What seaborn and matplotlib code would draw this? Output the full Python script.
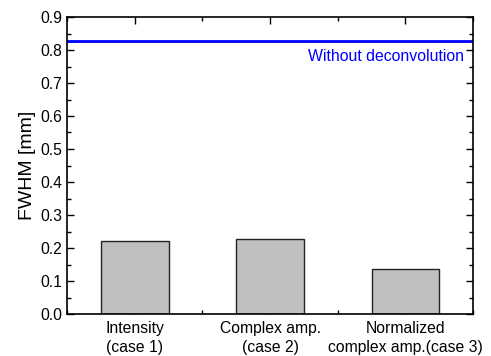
import matplotlib
matplotlib.use("Agg")
import matplotlib.pyplot as plt
import seaborn as sns
import pandas as pd
from matplotlib.ticker import MultipleLocator

# --- DATA ---
categories = ["Intensity\n(case 1)", "Complex amp.\n(case 2)", "Normalized\ncomplex amp.(case 3)"]
fwhm = [0.221, 0.227, 0.136]
ref_fwhm = 0.826
ref_label = "Without deconvolution"

df = pd.DataFrame({"method": categories, "fwhm": fwhm})

sns.set_theme(style="ticks")
plt.rcParams['font.family'] = ['Liberation Sans', 'DejaVu Sans']
plt.rcParams['text.color'] = 'black'
plt.rcParams['axes.labelcolor'] = 'black'

fig = plt.figure(figsize=(4.91, 3.56), dpi=100)
ax = fig.add_axes([67 / 491, 1 - 314 / 356, (473 - 67) / 491, (314 - 17) / 356])

sns.barplot(data=df, x="method", y="fwhm", ax=ax, color="#c0c0c0",
            edgecolor="#222222", linewidth=1.0, width=0.5, saturation=1)
ax.axhline(ref_fwhm, color="#0000ff", lw=2)
ax.text(2.43, ref_fwhm - 0.022, ref_label, color="#0000ff", ha="right", va="top", fontsize=11.4)

ax.set_xlim(-0.5, 2.5)
ax.set_ylim(0, 0.9)
ax.yaxis.set_major_locator(MultipleLocator(0.1))
ax.yaxis.set_minor_locator(MultipleLocator(0.05))
ax.xaxis.set_minor_locator(MultipleLocator(0.5))
ax.yaxis.set_major_formatter(plt.FuncFormatter(lambda v, p: f"{v:.1f}"))

ax.set_xlabel("")
ax.set_ylabel("FWHM [mm]", fontsize=14, labelpad=3, color="black")
ax.tick_params(which="both", direction="in", top=True, right=True, colors="black")
ax.tick_params(axis="y", labelsize=11.3)
ax.tick_params(axis="x", labelsize=11.3, pad=5)
ax.tick_params(which="major", length=5, width=1)
ax.tick_params(which="minor", length=3, width=1)
for lbl in ax.get_xticklabels():
    lbl.set_linespacing(1.35)
for s in ax.spines.values():
    s.set_linewidth(1.2)
    s.set_color("black")

plt.savefig("out.png", dpi=100)
